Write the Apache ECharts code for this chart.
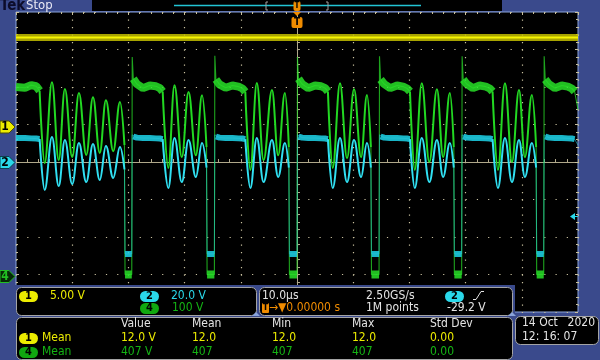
<!DOCTYPE html>
<html><head><meta charset="utf-8">
<script src="https://cdn.jsdelivr.net/npm/echarts@6/dist/echarts.min.js"></script>
<style>html,body{margin:0;padding:0;background:#3a4a8c}#c{width:600px;height:360px}</style>
</head><body><div id="c"></div>
<script>
// ---- data (time in microseconds, volts per channel) ----
const timeUs = [
  -50.00, -48.40, -47.30, -46.40, -45.80, -44.90, -43.60, -42.40, -41.30, -40.00, -38.80, -37.50, -36.30, -35.10, -34.00, -32.70, -31.50, -30.70, -30.60,
  -29.40, -29.32, -29.13, -28.50, -27.40, -26.20, -25.10, -24.40, -23.90, -22.90, -21.80, -20.50, -19.30, -18.00, -16.90, -16.10, -16.00,
  -14.70, -14.62, -14.43, -13.80, -12.70, -11.50, -10.40, -9.70, -9.20, -8.30, -7.15, -5.95, -4.45, -3.35, -2.15, -1.45, -1.35,
  0.00, 0.08, 0.27, 0.90, 2.00, 3.20, 4.30, 5.00, 5.50, 6.35, 7.65, 8.90, 10.15, 11.40, 12.45, 13.15, 13.25,
  14.60, 14.68, 14.87, 15.50, 16.60, 17.80, 18.90, 19.60, 20.10, 20.95, 22.20, 23.55, 24.90, 26.00, 27.20, 27.90, 28.00,
  29.30, 29.38, 29.57, 30.20, 31.30, 32.50, 33.60, 34.30, 34.80, 35.75, 37.00, 38.25, 39.50, 40.55, 41.80, 42.55, 42.65,
  43.90, 43.98, 44.17, 44.80, 45.90, 47.10, 48.20, 48.90, 49.40, 50.00
];
const ch4Volts = [
  500, 498, 505, 502, 490, 297, 513, 305, 495, 313, 484, 319, 473, 324, 465, 329, 460, 345, 0,
  0, 580, 522, 508, 497, 504, 502, 497, 488, 284, 505, 313, 487, 318, 478, 340, 0,
  0, 583, 520, 507, 498, 504, 501, 496, 487, 279, 511, 305, 492, 318, 484, 340, 0,
  0, 580, 522, 508, 497, 504, 502, 497, 488, 284, 510, 310, 494, 313, 479, 340, 0,
  0, 582, 520, 508, 497, 504, 501, 496, 488, 279, 510, 300, 494, 313, 484, 340, 0,
  0, 582, 520, 508, 497, 504, 501, 496, 488, 279, 510, 300, 492, 313, 479, 340, 0,
  0, 582, 520, 508, 497, 504, 501, 496, 488, 440
];
const ch2Volts = [
  12.8, 12.8, 12.6, 12.5, 12.3, -14.9, 13.3, -12.8, 11.7, -11.7, 10.1, -10.7, 9.6, -9.6, 8.5, -8.5, 8.0, -4, -49,
  -49, 14.5, 13.6, 13.0, 12.8, 12.8, 12.6, 12.5, 12.2, -13.9, 12.8, -10.7, 11.7, -8.0, 10.1, -3, -49,
  -49, 14.5, 13.6, 13.0, 12.8, 12.8, 12.6, 12.5, 12.2, -13.9, 12.8, -10.7, 11.7, -8.0, 10.1, -3, -49,
  -49, 14.5, 13.6, 13.0, 12.8, 12.8, 12.6, 12.5, 12.2, -13.9, 12.8, -10.7, 11.7, -8.0, 10.1, -3, -49,
  -49, 14.5, 13.6, 13.0, 12.8, 12.8, 12.6, 12.5, 12.2, -13.9, 12.8, -10.7, 11.7, -8.0, 10.1, -3, -49,
  -49, 14.5, 13.6, 13.0, 12.8, 12.8, 12.6, 12.5, 12.2, -13.9, 12.8, -10.7, 11.7, -8.0, 10.1, -3, -49,
  -49, 14.5, 13.6, 13.0, 12.8, 12.8, 12.6, 12.5, 12.2, 9
];
const ch1Time = [-50, 50];
const ch1Volts = [12.0, 12.0];

const scaleLabels = ['5.00 V', '20.0 V', '100 V'];
const timebase = ['10.0µs', '2.50GS/s', '→▼0.00000 s', '1M points', '-29.2 V'];
const measHeaders = ['Value', 'Mean', 'Min', 'Max', 'Std Dev'];
const ch1Stats = ['12.0 V', '12.0', '12.0', '12.0', '0.00'];
const ch4Stats = ['407 V', '407', '407', '407', '0.00'];
const dateLines = ['14 Oct', '2020', '12: 16: 07'];

// ---- styling ----
const BLUE = '#3a4a8c';
const YEL = '#ecec00', CYA = '#2ad8ea', GRN = '#14b414', WHT = '#e4e4e4', ORG = '#f08c00';
const FF = "'DejaVu Sans Condensed', Roboto, sans-serif";
const font = (s, w) => (w || 'normal') + ' ' + s + 'px ' + FF;

const n = timeUs.length;
const ch4Pts = timeUs.map((t, i) => [t, ch4Volts[i]]);
const ch2Pts = timeUs.map((t, i) => [t, ch2Volts[i]]);
const ch1Pts = ch1Time.map((t, i) => [t, ch1Volts[i]]);
const isOn = i => Math.abs(ch4Volts[i]) < 5;
const inFlat = v => v > 485 && v < 540;
// ringing stretches: from the end of each flat top up to the switch turn-on
const ring = new Array(n).fill(false);
for (let i = 0; i < n - 1; i++) {
  if (inFlat(ch4Volts[i]) && ch4Volts[i + 1] < 400 && !isOn(i + 1)) {
    let j = i;
    while (j < n && !isOn(j)) { ring[j] = true; j++; }
  }
}
const keepEdge = i => !ring[i] || !ring[i - 1] || !ring[i + 1];
const pick = (pts, f) => pts.map((p, i) => f(i, p[1]) ? p : [p[0], null]);
const ch4Ring = pick(ch4Pts, i => ring[i]);
const ch2Ring = pick(ch2Pts, i => ring[i]);
const ch4Edge = pick(ch4Pts, i => keepEdge(i));
const ch2Edge = pick(ch2Pts, i => keepEdge(i));
const ch4Band = pick(ch4Pts, (i, v) => (inFlat(v) && !(ring[i] && ring[i - 1])) || (v > -10 && v < 5));
const ch2Band = pick(ch2Pts, (i, v) => ((v >= 12 && v <= 14) && !(ring[i] && ring[i - 1])) || (v >= -52 && v <= -46));

const g = [];
const Z = 100;
function txt(x, y, s, fill, f, align) {
  g.push({type: 'text', x: x, y: y, z: Z + 2, style: {text: s, fill: fill, font: f || font(12), textAlign: align || 'left', textVerticalAlign: 'middle'}});
}
function panel(x, y, w, h) {
  g.push({type: 'rect', z: Z, shape: {x: x + 0.5, y: y + 0.5, width: w, height: h, r: 5}, style: {fill: '#000', stroke: '#a4a4a4', lineWidth: 1}});
}
function badge(x, y, s, fill, tc) {
  g.push({type: 'rect', z: Z + 1, shape: {x: x, y: y, width: 19, height: 11, r: 5.5}, style: {fill: fill},
    textContent: {z: Z + 2, style: {text: s, fill: tc || '#000', font: font(11, 'bold')}}, textConfig: {position: 'inside'}});
}
function marker(yc, s, fill, stroke, tc) {
  g.push({type: 'polygon', z: Z, shape: {points: [[0, yc - 6], [9, yc - 6], [15, yc], [9, yc + 6], [0, yc + 6]]}, style: {fill: fill, stroke: stroke, lineWidth: 1}});
  txt(5, yc, s, tc, font(12, 'bold'), 'center');
}

// bottom blue area and panels
g.push({type: 'rect', z: Z - 1, shape: {x: 0, y: 285, width: 515, height: 75}, style: {fill: BLUE}});
g.push({type: 'rect', z: Z - 1, shape: {x: 514, y: 314, width: 86, height: 46}, style: {fill: BLUE}});
panel(16, 287, 240, 28);
panel(259, 287, 253, 28);
panel(16, 317, 496, 42);
panel(515, 316, 83, 28);
g.push({type: 'polygon', z: Z + 1, shape: {points: [[252, 316], [260, 316], [256, 312]]}, style: {fill: '#8aa4dc'}});
g.push({type: 'polygon', z: Z + 1, shape: {points: [[508, 316], [516, 316], [512, 312]]}, style: {fill: '#8aa4dc'}});

// panel 1: vertical scales
badge(19, 291, '1', YEL);
txt(50, 296, scaleLabels[0], YEL);
badge(140, 291, '2', CYA);
txt(171, 296, scaleLabels[1], CYA);
badge(140, 303, '4', '#10a810');
txt(172, 308, scaleLabels[2], GRN);

// panel 2: timebase & trigger
txt(262, 296, timebase[0], WHT);
txt(366, 296, timebase[1], WHT);
badge(445, 291, '2', CYA);
g.push({type: 'polyline', z: Z + 2, shape: {points: [[473, 299.5], [476, 299.5], [481, 291.5], [484, 291.5]]}, style: {stroke: WHT, lineWidth: 1, fill: null}});
g.push({type: 'rect', z: Z + 1, shape: {x: 262, y: 303, width: 7, height: 10, r: 1}, style: {fill: ORG},
  textContent: {z: Z + 2, style: {text: 'T', fill: '#000', font: font(9, 'bold')}}, textConfig: {position: 'inside'}});
txt(269, 308, timebase[2], ORG);
txt(366, 308, timebase[3], WHT);
txt(447, 308, timebase[4], WHT);

// panel 3: measurements
const colX = [121, 192, 272, 352, 430];
measHeaders.forEach((h, i) => txt(colX[i], 324, h, WHT));
badge(19, 333, '1', YEL);
txt(42, 338, 'Mean', YEL);
ch1Stats.forEach((v, i) => txt(colX[i], 338, v, YEL));
badge(19, 347, '4', '#10a810');
txt(42, 352, 'Mean', GRN);
ch4Stats.forEach((v, i) => txt(colX[i], 352, v, GRN));

// panel 4: date
txt(522, 323, dateLines[0], WHT);
txt(595, 323, dateLines[1], WHT, font(12), 'right');
txt(522, 337, dateLines[2], WHT);

// top bar
txt(0, 6, 'Tek', '#0c0c2a', font(15, 'bold'));
txt(26, 6, 'Stop', '#e8e8f4', font(13));
g.push({type: 'rect', z: Z, shape: {x: 92, y: 0, width: 410, height: 11}, style: {fill: '#000'}});
g.push({type: 'line', z: Z + 1, shape: {x1: 174, y1: 5.5, x2: 421, y2: 5.5}, style: {stroke: '#22c4d4', lineWidth: 1.5}});
g.push({type: 'polyline', z: Z + 1, shape: {points: [[268, 2], [266, 2], [266, 10], [268, 10]]}, style: {stroke: '#a0a0a0', fill: null}});
g.push({type: 'polyline', z: Z + 1, shape: {points: [[326, 2], [328, 2], [328, 10], [326, 10]]}, style: {stroke: '#a0a0a0', fill: null}});
g.push({type: 'rect', z: Z + 2, shape: {x: 293.5, y: 1, width: 7, height: 10, r: 2}, style: {fill: ORG},
  textContent: {z: Z + 3, style: {text: 'T', fill: '#000', font: font(8, 'bold')}}, textConfig: {position: 'inside'}});
g.push({type: 'polygon', z: Z + 2, shape: {points: [[293, 12], [301, 12], [297, 16]]}, style: {fill: ORG}});
g.push({type: 'rect', z: Z + 2, shape: {x: 291.5, y: 17, width: 11, height: 11, r: 2}, style: {fill: ORG},
  textContent: {z: Z + 3, style: {text: 'T', fill: '#000', font: font(10, 'bold')}}, textConfig: {position: 'inside'}});

// left channel markers, right trigger level arrow
marker(127, '1', YEL, '#505000', '#000');
marker(162.5, '2', CYA, '#0a4050', '#000');
marker(276.5, '4', '#062a06', '#22c022', '#22c022');
g.push({type: 'polygon', z: Z, shape: {points: [[570, 216.5], [575, 213], [575, 220]]}, style: {fill: CYA}});
g.push({type: 'line', z: Z, shape: {x1: 574, y1: 216.5, x2: 578, y2: 216.5}, style: {stroke: CYA, lineWidth: 1}});

const GR = '#c8c09e', BEIGE = '#b0a88a';
const hidden = {axisLabel: {show: false}, axisLine: {show: false, onZero: false}, axisTick: {show: false}, splitLine: {show: false}};
const option = {
  animation: false,
  backgroundColor: BLUE,
  grid: {left: 16, right: 22, top: 12, bottom: 48, show: true, backgroundColor: '#000', borderColor: '#8aa4dc', borderWidth: 1, outerBoundsMode: 'none'},
  xAxis: [
    {type: 'value', min: -50, max: 50, interval: 10, axisLabel: {show: false},
      axisLine: {show: true, onZero: true, onZeroAxisIndex: 0, lineStyle: {color: BEIGE, width: 1}},
      axisTick: {show: true, inside: true, length: 3, lineStyle: {color: BEIGE}},
      minorTick: {show: true, splitNumber: 5, length: 3, lineStyle: {color: BEIGE}},
      splitLine: {show: true, lineStyle: {color: GR, type: [1.2, 6.3], width: 1.2}}},
    {type: 'value', position: 'top', min: -50, max: 50, interval: 10, axisLabel: {show: false},
      axisLine: {show: false, onZero: false}, axisTick: {show: true, inside: true, length: 3, lineStyle: {color: GR}},
      minorTick: {show: true, splitNumber: 5, length: 2, lineStyle: {color: GR}}, splitLine: {show: false}}
  ],
  yAxis: [
    {type: 'value', min: -80, max: 80, interval: 20, axisLabel: {show: false},
      axisLine: {show: true, onZero: true, onZeroAxisIndex: 0, lineStyle: {color: BEIGE, width: 1}},
      axisTick: {show: true, inside: true, length: 3, lineStyle: {color: BEIGE}},
      minorTick: {show: true, splitNumber: 5, length: 3, lineStyle: {color: BEIGE}},
      splitLine: {show: true, lineStyle: {color: GR, type: [1.2, 10.04], width: 1.2}}},
    Object.assign({type: 'value', min: -24.6, max: 15.4, show: false}, hidden),
    Object.assign({type: 'value', min: -100, max: 700, show: false}, hidden),
    {type: 'value', position: 'left', min: -80, max: 80, interval: 20, axisLabel: {show: false},
      axisLine: {show: false, onZero: false}, axisTick: {show: true, inside: true, length: 3, lineStyle: {color: GR}},
      minorTick: {show: true, splitNumber: 5, length: 2, lineStyle: {color: GR}}, splitLine: {show: false}},
    {type: 'value', position: 'right', min: -80, max: 80, interval: 20, axisLabel: {show: false},
      axisLine: {show: false, onZero: false}, axisTick: {show: true, inside: true, length: 3, lineStyle: {color: GR}},
      minorTick: {show: true, splitNumber: 5, length: 2, lineStyle: {color: GR}}, splitLine: {show: false}}
  ],
  series: [
    {type: 'line', yAxisIndex: 1, data: ch1Pts, symbol: 'none', silent: true, lineStyle: {color: 'rgba(196,192,0,0.85)', width: 7}},
    {type: 'line', yAxisIndex: 1, data: ch1Pts, symbol: 'none', silent: true, lineStyle: {color: '#f6f400', width: 2}},
    {type: 'line', yAxisIndex: 2, data: ch4Band, symbol: 'none', silent: true, lineStyle: {color: 'rgba(40,225,40,0.85)', width: 8}},
    {type: 'line', yAxisIndex: 2, data: ch4Edge, symbol: 'none', silent: true, lineStyle: {color: 'rgba(40,220,40,0.75)', width: 1.1}},
    {type: 'line', yAxisIndex: 2, data: ch4Ring, symbol: 'none', silent: true, smooth: 0.4, smoothMonotone: 'x', lineStyle: {color: '#22d822', width: 2}},
    {type: 'line', yAxisIndex: 0, data: ch2Band, symbol: 'none', silent: true, lineStyle: {color: 'rgba(28,206,226,0.88)', width: 6}},
    {type: 'line', yAxisIndex: 0, data: ch2Edge, symbol: 'none', silent: true, lineStyle: {color: 'rgba(40,200,220,0.55)', width: 1}},
    {type: 'line', yAxisIndex: 0, data: ch2Ring, symbol: 'none', silent: true, smooth: 0.4, smoothMonotone: 'x', lineStyle: {color: '#30e0f2', width: 2}}
  ],
  graphic: g
};
const chart = echarts.init(document.getElementById('c'), null, {renderer: 'canvas'});
chart.setOption(option);
</script></body></html>
